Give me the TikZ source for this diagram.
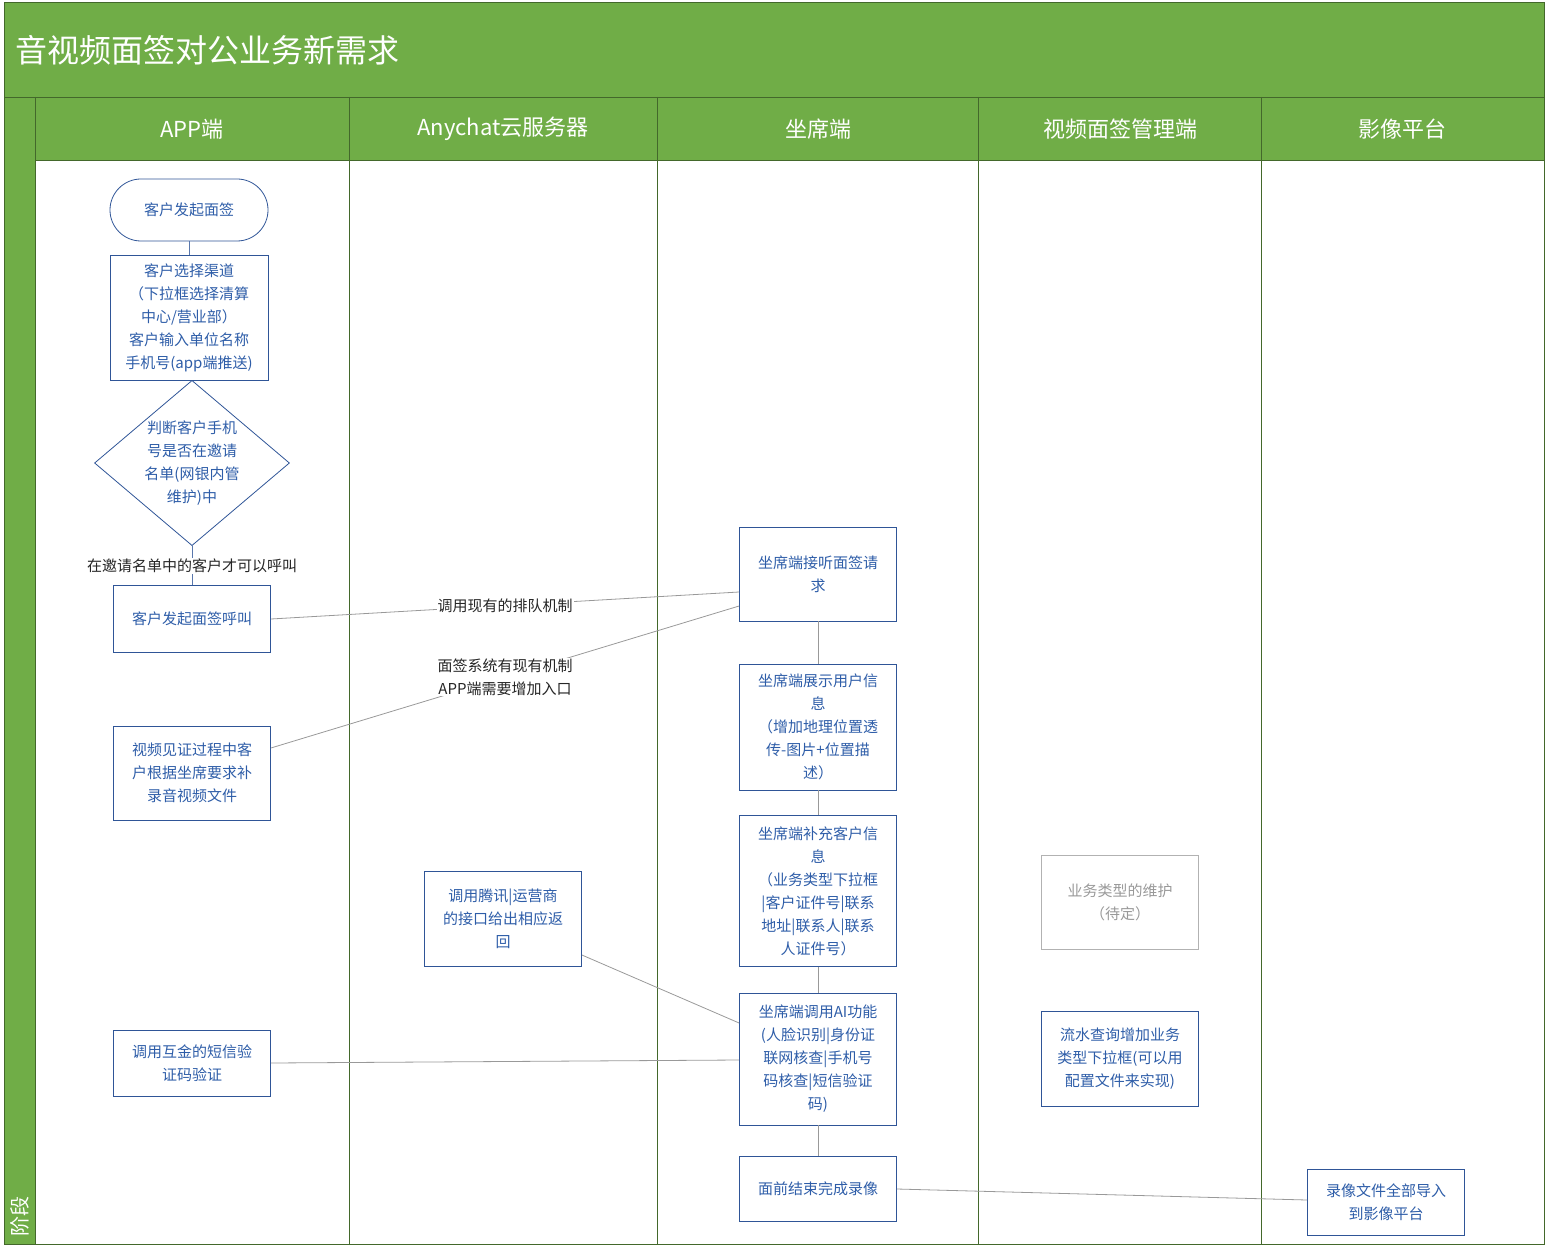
\documentclass[tikz,border=0pt]{standalone}
\usepackage{fontspec}
\setmainfont{Noto Sans CJK SC}
\usetikzlibrary{shapes.geometric}
\definecolor{lanegreen}{HTML}{70AD47}
\definecolor{darkgreen}{HTML}{43682B}
\definecolor{boxblue}{HTML}{2F5597}
\definecolor{txtblue}{HTML}{2E5DA8}
\tikzset{
  task/.style={draw=boxblue, thick, text=txtblue, align=center, inner sep=2pt,
    font=\fontsize{15}{23}\selectfont},
  gtask/.style={task, draw=gray!60, text=gray!80},
  link/.style={draw=gray!80, thick},
  blink/.style={draw=boxblue!80, thick},
  lbl/.style={fill=white, text=gray!30!black, align=center, inner sep=1pt,
    font=\fontsize{15}{23}\selectfont},
  lanehead/.style={text=white, font=\fontsize{22}{26}\selectfont}
}
\begin{document}
\begin{tikzpicture}[x=1pt,y=-1pt]
\useasboundingbox (0,0) rectangle (1546,1246);
% frame and headers
\fill[lanegreen] (4,2) rectangle (1544,97);
\fill[lanegreen] (4,97) rectangle (35,1244);
\fill[lanegreen] (35,97) rectangle (1544,160);
\draw[darkgreen, thick] (4,2) rectangle (1544,1244);
\draw[darkgreen, thick] (4,97) -- (1544,97);
\draw[darkgreen, thick] (35,160) -- (1544,160);
\draw[darkgreen, thick] (35,97) -- (35,1244);
\foreach \x in {349,657,978,1261}
  \draw[darkgreen, thick] (\x,97) -- (\x,1244);
\node[anchor=west, text=white, font=\fontsize{32}{36}\selectfont] (title) at (12,50) {音视频面签对公业务新需求};
\node[lanehead] (h1) at (192,129) {APP端};
\node[lanehead] (h2) at (503,129) {Anychat云服务器};
\node[lanehead] (h3) at (818,129) {坐席端};
\node[lanehead] (h4) at (1120,129) {视频面签管理端};
\node[lanehead] (h5) at (1402,129) {影像平台};
\node[lanehead, rotate=90, anchor=west, font=\fontsize{20}{24}\selectfont] (stage) at (20,1240) {阶段};

% APP lane
\node[task, rounded corners=31pt, minimum width=158pt, minimum height=62pt] (start) at (189,210) {客户发起面签};
\node[task, minimum width=158pt, minimum height=125pt] (choose) at (189,318) {客户选择渠道\\（下拉框选择清算\\中心/营业部）\\客户输入单位名称\\手机号(app端推送)};
\node[task, diamond, aspect=1.18, minimum width=156pt, inner sep=0pt] (check) at (192,463) {判断客户手机\\号是否在邀请\\名单(网银内管\\维护)中};
\node[task, minimum width=157pt, minimum height=67pt] (call) at (192,619) {客户发起面签呼叫};
\node[task, minimum width=157pt, minimum height=94pt] (video) at (192,773) {视频见证过程中客\\户根据坐席要求补\\录音视频文件};
\node[task, minimum width=157pt, minimum height=66pt] (sms) at (192,1063) {调用互金的短信验\\证码验证};

% Anychat lane
\node[task, minimum width=157pt, minimum height=95pt] (tencent) at (503,919) {调用腾讯|运营商\\的接口给出相应返\\回};

% agent lane
\node[task, minimum width=157pt, minimum height=94pt] (answer) at (818,574) {坐席端接听面签请\\求};
\node[task, minimum width=157pt, minimum height=126pt] (show) at (818,727) {坐席端展示用户信\\息\\（增加地理位置透\\传-图片+位置描\\述）};
\node[task, minimum width=157pt, minimum height=151pt] (supp) at (818,891) {坐席端补充客户信\\息\\（业务类型下拉框\\|客户证件号|联系\\地址|联系人|联系\\人证件号）};
\node[task, minimum width=157pt, minimum height=132pt] (ai) at (818,1059) {坐席端调用AI功能\\(人脸识别|身份证\\联网核查|手机号\\码核查|短信验证\\码)};
\node[task, minimum width=157pt, minimum height=65pt] (finish) at (818,1189) {面前结束完成录像};

% management lane
\node[gtask, minimum width=157pt, minimum height=94pt] (maint) at (1120,902) {业务类型的维护\\（待定）};
\node[task, minimum width=157pt, minimum height=95pt] (flow) at (1120,1059) {流水查询增加业务\\类型下拉框(可以用\\配置文件来实现)};

% image platform lane
\node[task, minimum width=157pt, minimum height=66pt] (import) at (1386,1202) {录像文件全部导入\\到影像平台};

% connectors
\draw[blink] (start) -- (choose);
\draw[blink] (choose) -- (check);
\draw[blink] (check) -- node[lbl] {在邀请名单中的客户才可以呼叫} (call);
\draw[link] (call.east) -- node[lbl, pos=0.5] {调用现有的排队机制} (answer.west |- 0,592);
\draw[link] (video.east |- 0,748) -- node[lbl, pos=0.5] {面签系统有现有机制\\APP端需要增加入口} (answer.west |- 0,606);
\draw[link] (answer) -- (show);
\draw[link] (show) -- (supp);
\draw[link] (supp) -- (ai);
\draw[link] (ai) -- (finish);
\draw[link] (tencent.east |- 0,955) -- (ai.west |- 0,1023);
\draw[link] (sms.east) -- (ai.west |- 0,1060);
\draw[link] (finish.east) -- (import.west |- 0,1200);
\end{tikzpicture}
\end{document}
